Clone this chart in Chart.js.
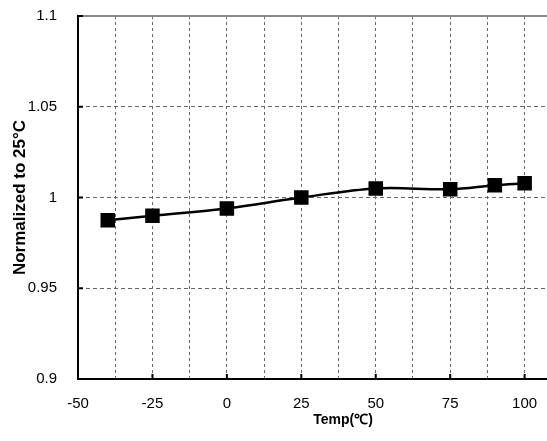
<!DOCTYPE html>
<html>
<head>
<meta charset="utf-8">
<script src="https://cdn.jsdelivr.net/npm/chart.js@4"></script>
<style>
  html, body { margin: 0; padding: 0; background: #fff; overflow: hidden; }
  #wrap { width: 640px; height: 455px; margin-top: -14px; }
</style>
</head>
<body>
<div id="wrap"><canvas id="grafico" width="640" height="455"></canvas></div>
<script>
// ==============================
// DATOS
// ==============================
const temps = [-40, -25, 0, 25, 50, 75, 90, 100];
const normalizado = [0.9875, 0.990, 0.994, 1.000, 1.005, 1.0046, 1.0068, 1.0078];
const ticksX = [-50, -25, 0, 25, 50, 75, 100, 125];
const ticksY = [0.9, 0.95, 1, 1.05, 1.1];

// marcas cortas hacia dentro en los ejes
const marcasInternas = {
    id: "marcasInternas",
    afterDatasetsDraw(chart) {
        const { ctx, chartArea, scales } = chart;
        ctx.save();
        ctx.strokeStyle = "#000";
        ctx.lineWidth = 2;
        ctx.beginPath();
        ticksX.forEach(v => {
            const x = scales.x.getPixelForValue(v);
            ctx.moveTo(x, chartArea.bottom);
            ctx.lineTo(x, chartArea.bottom - 5);
        });
        ticksY.forEach(v => {
            const y = scales.y.getPixelForValue(v);
            ctx.moveTo(chartArea.left, y);
            ctx.lineTo(chartArea.left + 5, y);
        });
        ctx.stroke();
        ctx.restore();
    }
};

const esMayor = v => Math.abs(v / 25 - Math.round(v / 25)) < 1e-6;

new Chart(document.getElementById("grafico"), {
    type: "line",
    data: {
        datasets: [{
            data: temps.map((t, i) => ({ x: t, y: normalizado[i] })),
            borderColor: "#000",
            backgroundColor: "#000",
            borderWidth: 2.5,
            tension: 0.35,
            pointStyle: "rect",
            pointRadius: 8.5,
            pointHoverRadius: 8.5,
            fill: false
        }]
    },
    options: {
        responsive: false,
        animation: false,
        events: [],
        layout: { padding: { left: 0, top: 2, right: 32, bottom: 0 } },
        plugins: { legend: { display: false }, tooltip: { enabled: false } },
        scales: {
            x: {
                type: "linear",
                min: -50,
                max: 128,
                afterFit: s => { s.height = 62; },
                ticks: {
                    stepSize: 12.5,
                    padding: 16,
                    color: "#000",
                    font: { family: "Liberation Sans", size: 15 },
                    maxRotation: 0,
                    autoSkip: false,
                    callback: v => esMayor(v) ? String(v) : ""
                },
                grid: {
                    drawTicks: false,
                    color: "#666",
                    lineWidth: 1
                },
                border: {
                    color: "#000",
                    width: 2,
                    dash: [3, 3]
                },
                title: {
                    display: true,
                    text: "Temp(℃)",
                    color: "#000",
                    font: { family: "Liberation Sans", size: 14, weight: "bold" },
                    padding: { top: 0, bottom: 12 }
                }
            },
            y: {
                min: 0.9,
                max: 1.1,
                afterFit: s => { s.width = 78; },
                ticks: {
                    stepSize: 0.05,
                    padding: 21,
                    color: "#000",
                    font: { family: "Liberation Sans", size: 15 },
                    callback: v => String(parseFloat(v.toFixed(2)))
                },
                grid: {
                    drawTicks: false,
                    color: c => (c.tick && c.tick.value > 1.09) ? "#888" : "#666",
                    lineWidth: c => (c.tick && c.tick.value > 1.09) ? 2 : 1
                },
                border: {
                    color: "#000",
                    width: 2,
                    dash: c => (c.tick && c.tick.value > 1.09) ? [] : [4, 3]
                },
                title: {
                    display: true,
                    text: "Normalized to 25°C",
                    color: "#000",
                    font: { family: "Liberation Sans", size: 17, weight: "bold" },
                    padding: { top: 10, bottom: 0 }
                }
            }
        }
    },
    plugins: [marcasInternas]
});
</script>
</body>
</html>
